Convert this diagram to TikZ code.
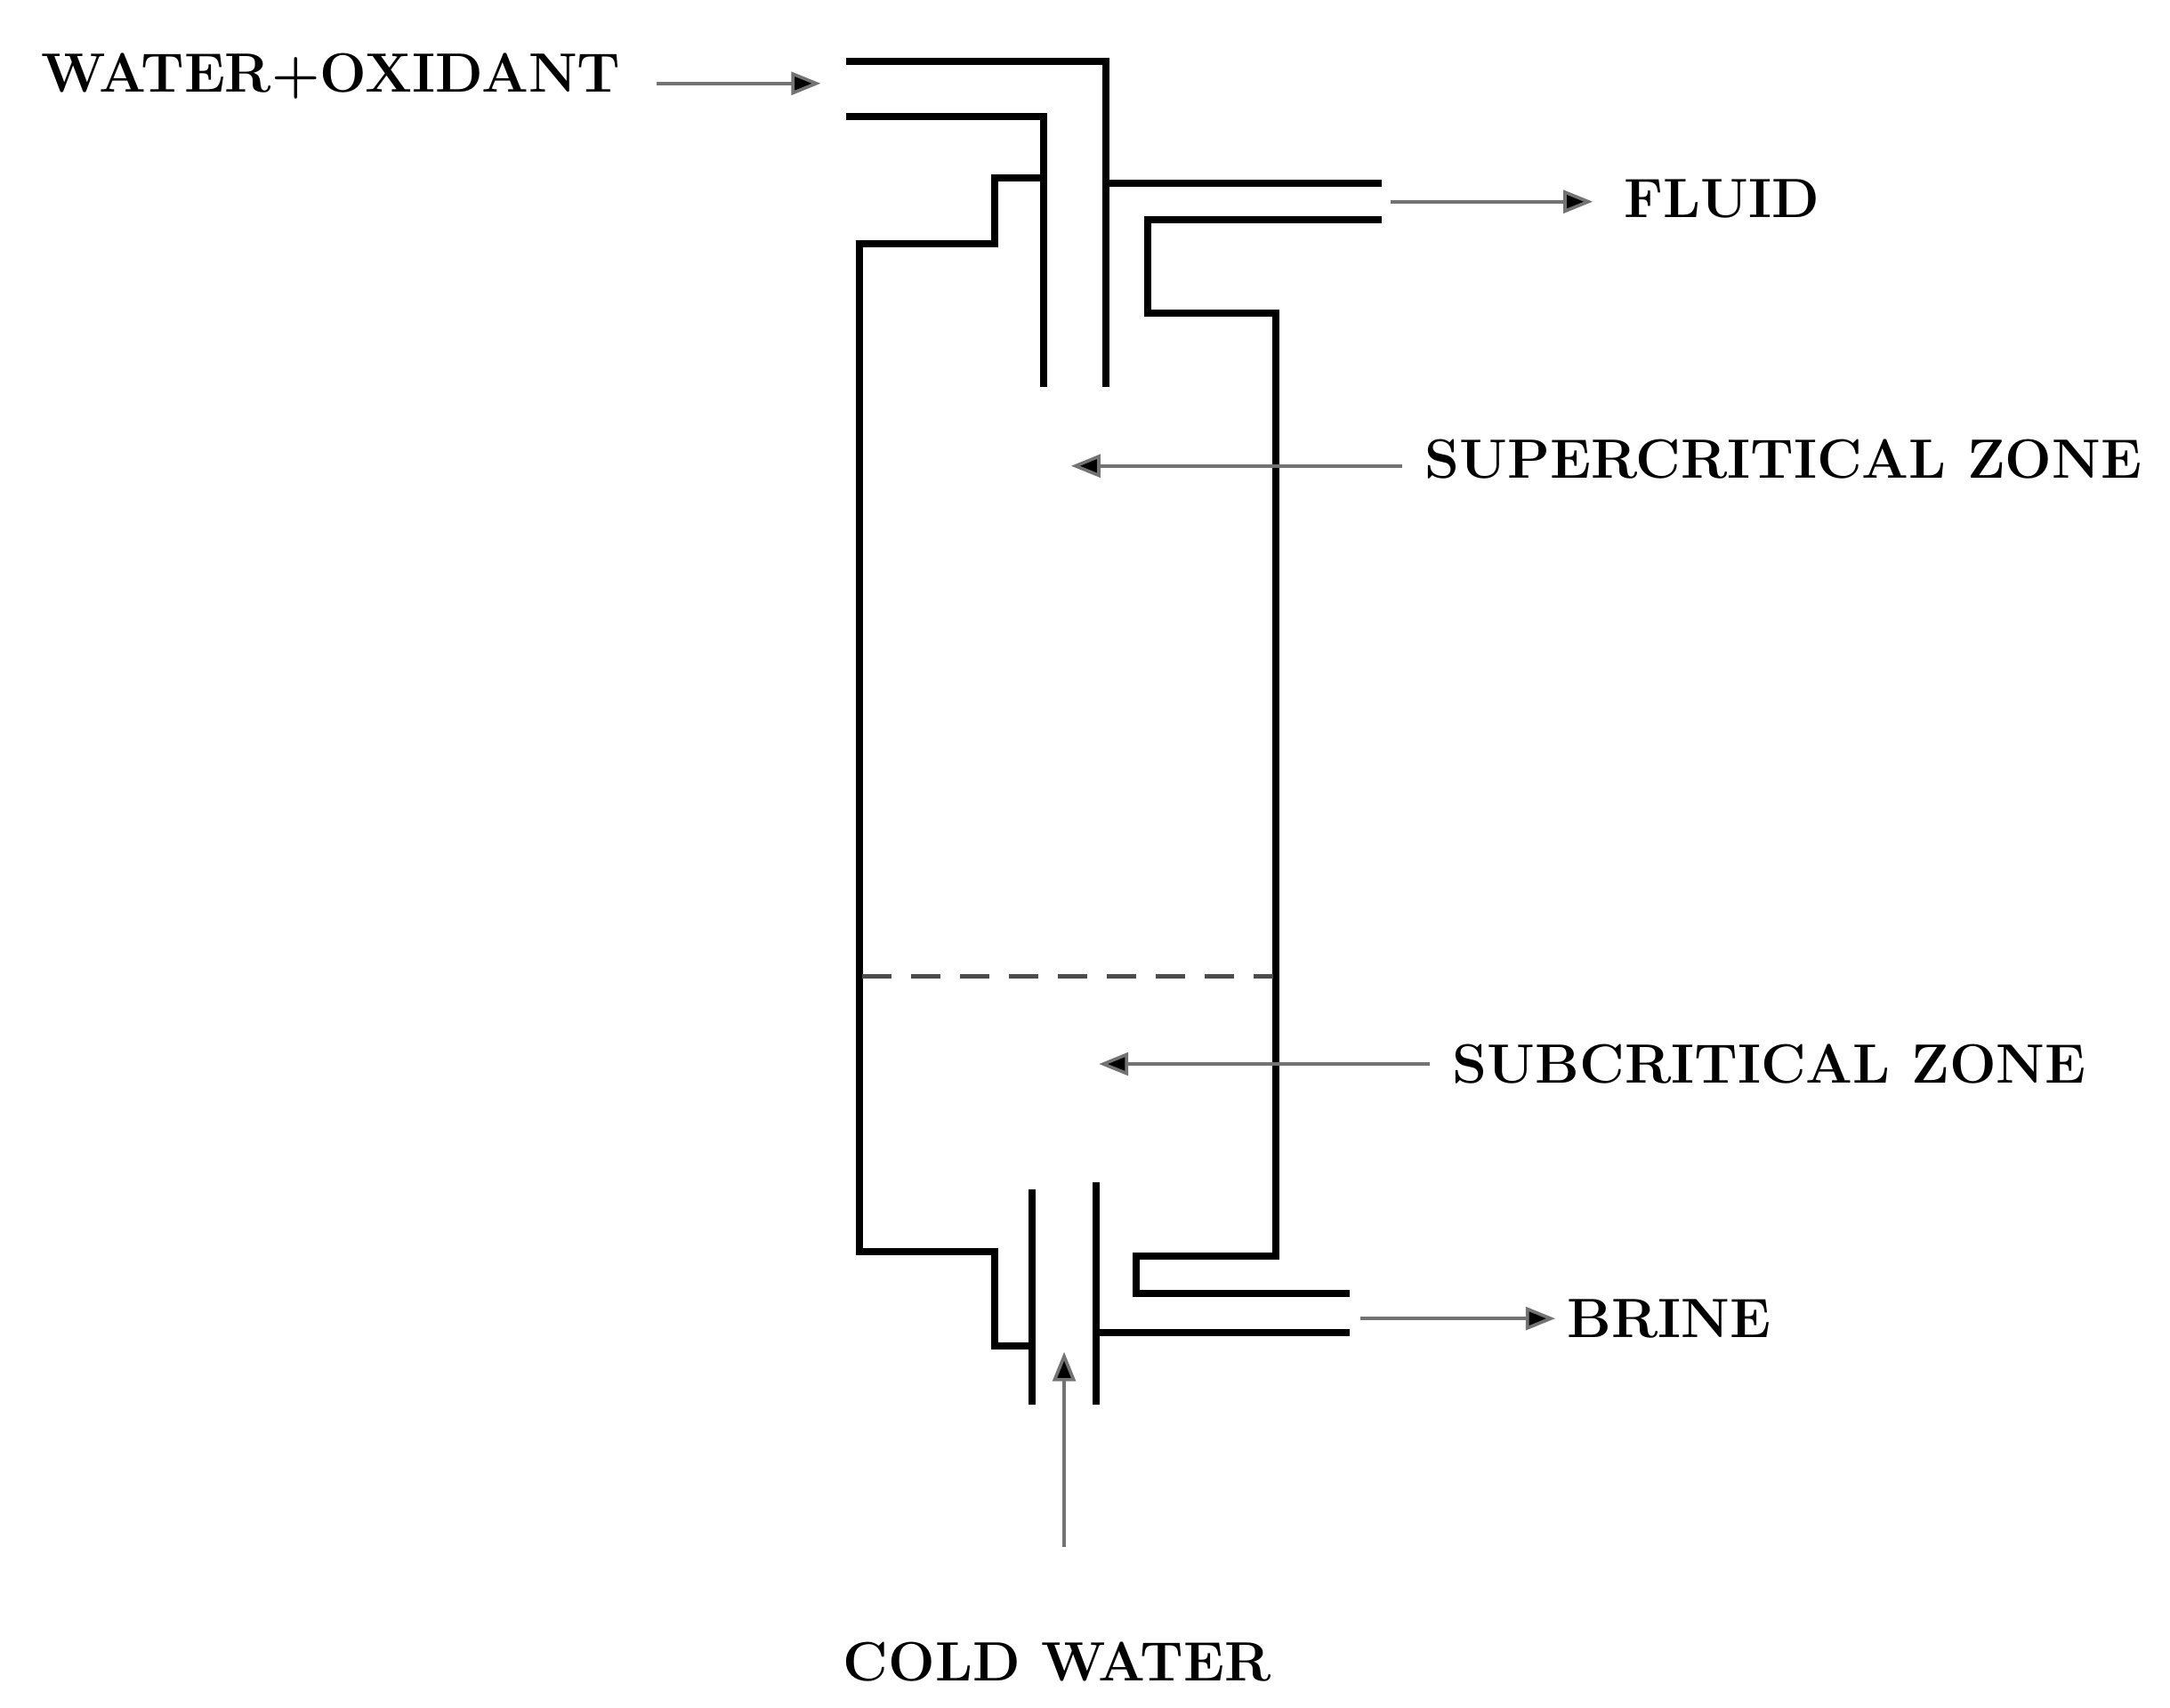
\documentclass[tikz,border=0pt]{standalone}
\usepackage{tikz}
\usetikzlibrary{arrows.meta, positioning}
\begin{document}
\begin{tikzpicture}[x=0.015cm, y=-0.015cm,
  wall/.style={line width=2.2pt, line join=miter},
  flow/.style={draw=black!55, line width=1pt, -{Triangle[length=9pt, width=7pt, fill=black]}},
  lbl/.style={font=\fontsize{17}{19}\selectfont\bfseries, inner sep=0pt}]
\useasboundingbox (0,0) rectangle (1560,1228);

% inlet pipe
\draw[wall] (608,44) -- (795,44) -- (795,278);
\draw[wall] (608,84) -- (750,84) -- (750,278);
% vessel left side
\draw[wall] (750,128) -- (715,128) -- (715,175) -- (618,175) -- (618,900) -- (715,900) -- (715,968) -- (742,968);
% fluid outlet and right side
\draw[wall] (795,132) -- (993,132);
\draw[wall] (993,158) -- (825,158) -- (825,225) -- (917,225) -- (917,903) -- (817,903) -- (817,930) -- (970,930);
\draw[wall] (970,958) -- (788,958);
% cold water pipe
\draw[wall] (742,855) -- (742,1010);
\draw[wall] (788,850) -- (788,1010);
% zone boundary
\draw[black!70, line width=1.2pt, dash pattern=on 9pt off 6pt] (620,702) -- (915,702);

% labels
\node[lbl] (wo) at (238,55) {WATER+OXIDANT};
\node[lbl] (fluid) at (1238,143) {FLUID};
\node[lbl] (super) at (1282,330) {SUPERCRITICAL ZONE};
\node[lbl] (sub) at (1272,765) {SUBCRITICAL ZONE};
\node[lbl] (brine) at (1200,948) {BRINE};
\node[lbl] (cold) at (760,1195) {COLD WATER};

\coordinate (wostart) at (472,60);
\coordinate (inlet) at (590,60);
\coordinate (fluidout) at (1000,145);
\coordinate (fluidend) at (1145,145);
\coordinate (superstart) at (1008,335);
\coordinate (superpt) at (770,335);
\coordinate (substart) at (1028,765);
\coordinate (subpt) at (790,765);
\coordinate (brineout) at (978,948);
\coordinate (brineend) at (1118,948);
\coordinate (coldstart) at (765,1112);
\coordinate (coldin) at (765,972);

\draw[flow] (wostart) -- (inlet);
\draw[flow] (fluidout) -- (fluidend);
\draw[flow] (superstart) -- (superpt);
\draw[flow] (substart) -- (subpt);
\draw[flow] (brineout) -- (brineend);
\draw[flow] (coldstart) -- (coldin);
\end{tikzpicture}
\end{document}
